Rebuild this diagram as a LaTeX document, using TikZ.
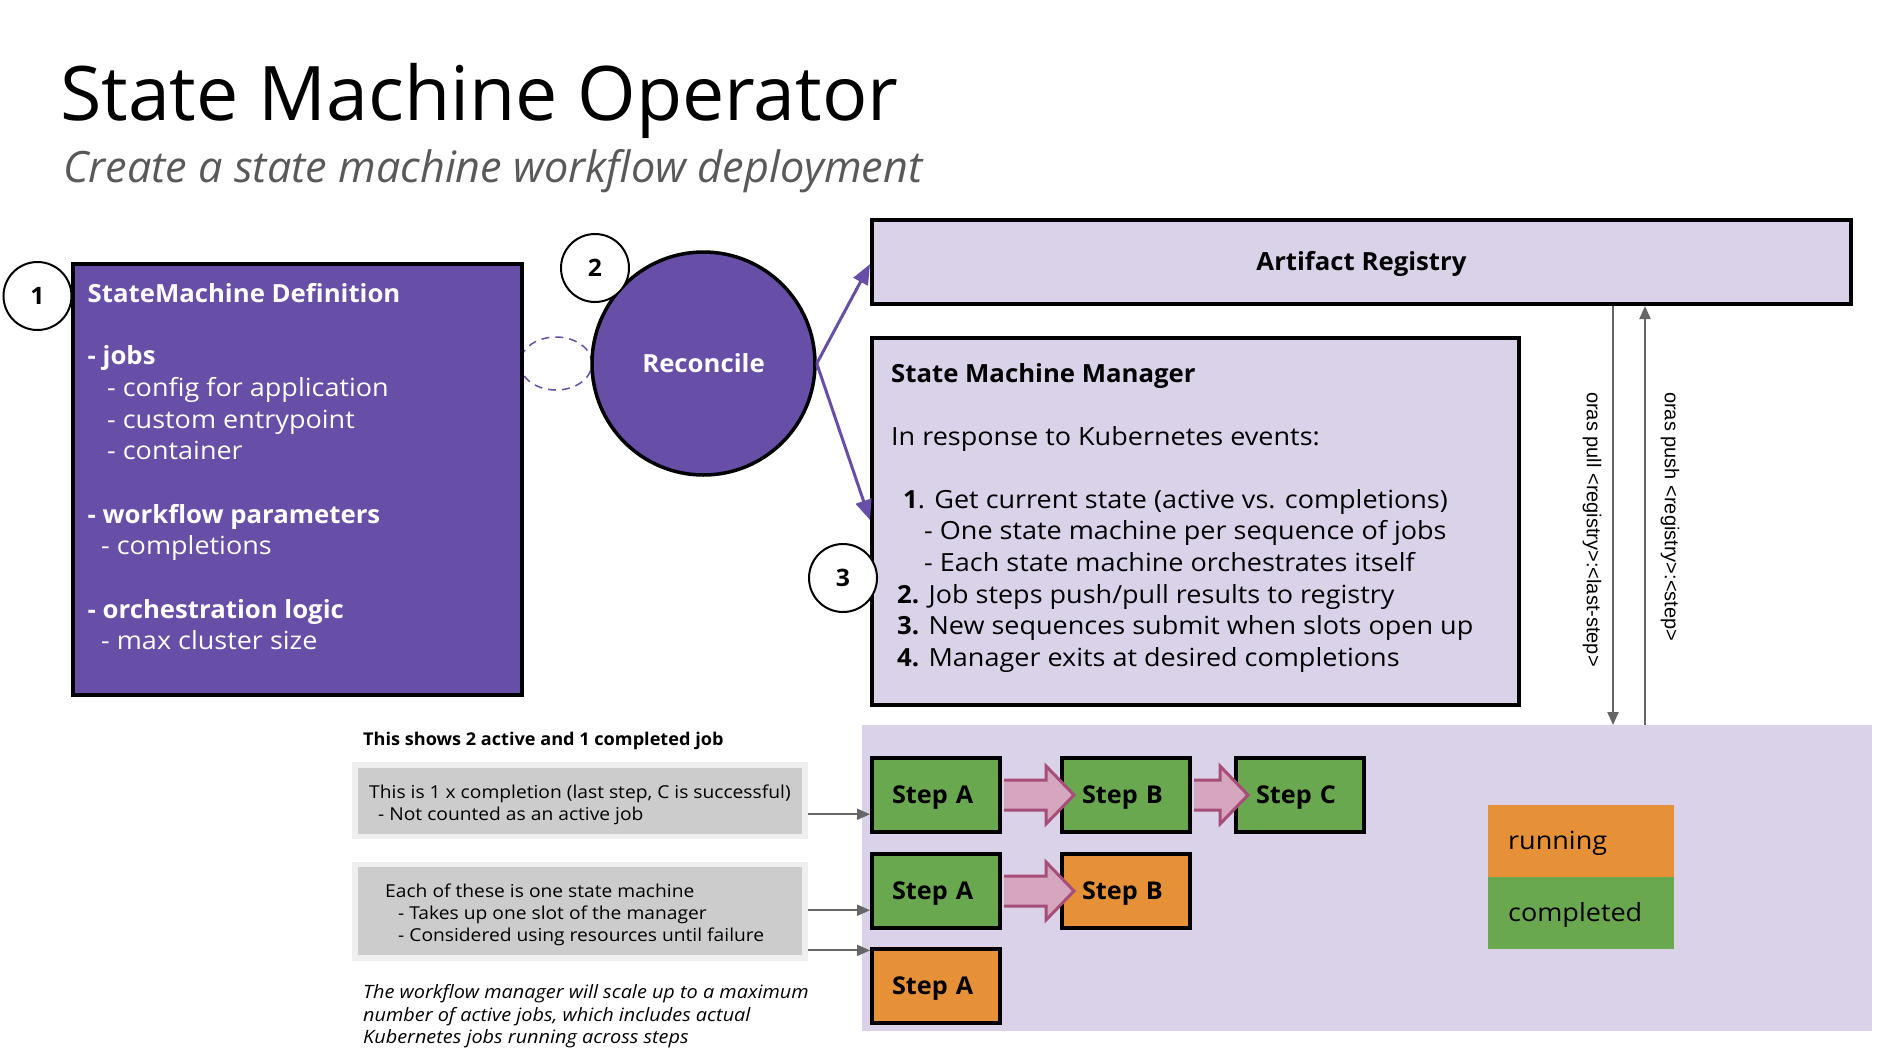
\documentclass[tikz,border=0pt]{standalone}
\usepackage{fontspec}
\setmainfont{Open Sans}[FakeStretch=1.08]
\newfontfamily\titlefont{Open Sans}
\newfontfamily\boldfam{Open Sans}[FakeStretch=1.03]
\newfontfamily\labelfont{Liberation Sans}
\newcommand\mybf[1]{{\boldfam\bfseries #1}}
\usetikzlibrary{arrows.meta,calc,shapes.geometric}
\definecolor{dpurple}{HTML}{674EA7}
\definecolor{lav}{HTML}{D9D2E9}
\definecolor{sgreen}{HTML}{6AA84F}
\definecolor{sorange}{HTML}{E69138}
\definecolor{pinkfill}{HTML}{D5A6BD}
\definecolor{pinkline}{HTML}{A64D79}
\definecolor{gout}{HTML}{EFEFEF}
\definecolor{gin}{HTML}{CCCCCC}
\definecolor{arrowgray}{HTML}{666666}
\definecolor{subgray}{HTML}{595959}
\tikzset{
 body/.style={inner sep=0pt, anchor=base west, font=\fontsize{25}{30}\selectfont},
 bodyb/.style={inner sep=0pt, anchor=base west, font=\boldfam\bfseries\fontsize{25}{30}\selectfont},
 small/.style={inner sep=0pt, anchor=base west, font=\fontsize{17.8}{22}\selectfont},
 smallb/.style={inner sep=0pt, anchor=base west, font=\boldfam\bfseries\fontsize{17.6}{20}\selectfont},
 foot/.style={inner sep=0pt, anchor=base west, font=\itshape\fontsize{18.4}{22}\selectfont},
 panel/.style={draw=black, line width=4pt, inner sep=0pt, anchor=north west},
 numc/.style={circle, draw=black, line width=2pt, fill=white, minimum size=68pt, inner sep=0pt, text height=17pt, text depth=0pt, font=\boldfam\bfseries\fontsize{24}{24}\selectfont},
 stepbox/.style={draw=black, line width=4pt, anchor=north west, minimum width=128pt, minimum height=74pt, text width=88pt, inner xsep=20pt, inner ysep=0pt, align=left, text height=17pt, text depth=0pt, font=\boldfam\bfseries\fontsize{24.5}{25}\selectfont},
 legbox/.style={anchor=north west, minimum width=186pt, minimum height=72pt, text width=146pt, inner xsep=20pt, inner ysep=0pt, align=left, text height=17pt, text depth=0pt, font=\fontsize{25}{26}\selectfont},
 parrow/.style={draw=dpurple, line width=3pt, -{Triangle[length=20pt,width=16pt]}},
 garrow/.style={draw=arrowgray, line width=2pt, -{Triangle[length=13pt,width=11pt]}},
 vlab/.style={inner sep=0pt, anchor=west, rotate=-90, font=\labelfont\fontsize{20}{20}\selectfont},
 grayout/.style={fill=gout, inner sep=0pt, anchor=north west},
 grayin/.style={fill=gin, inner sep=0pt, anchor=north west},
 pinkedge/.style={draw=pinkline, line width=3pt, line join=miter},
}
\newcommand\pinkarrow[2]{%
 \fill[pinkfill] let \p1=(#1.east), \p2=(#2.west) in
  (\x1+2pt,\y1+15pt) -- (\x2-14pt,\y1+15pt) -- (\x2-14pt,\y1+29pt) -- (\x2+14pt,\y1)
  -- (\x2-14pt,\y1-29pt) -- (\x2-14pt,\y1-15pt) -- (\x1+2pt,\y1-15pt) -- cycle;
 \draw[pinkedge] let \p1=(#1.east), \p2=(#2.west) in
  (\x1+2pt,\y1+15pt) -- (\x2-14pt,\y1+15pt) -- (\x2-14pt,\y1+29pt) -- (\x2+14pt,\y1)
  -- (\x2-14pt,\y1-29pt) -- (\x2-14pt,\y1-15pt) -- (\x1+2pt,\y1-15pt);
}
\begin{document}
\begin{tikzpicture}[x=1pt,y=-1pt]
\useasboundingbox (0,0) rectangle (1889,1058);
\fill[white] (0,0) rectangle (1889,1058);

% title
\node[inner sep=0pt, anchor=base west, font=\titlefont\fontsize{75.3}{80}\selectfont] (title) at (60,120) {State Machine Operator};
\node[inner sep=0pt, anchor=base west, text=subgray, font=\titlefont\itshape\fontsize{43.2}{46}\selectfont] (subtitle) at (63,182) {Create a state machine workflow deployment};

% link ellipse
\node[ellipse, draw=dpurple, line width=1.5pt, dash pattern=on 8pt off 6pt, minimum width=72pt, minimum height=53pt, inner sep=0pt] (link) at (556,363.5) {};

% definition
\node[panel, fill=dpurple, minimum width=449pt, minimum height=431pt] (def) at (71,262) {};
\node[numc] (n1) at (37.5,296) {1};
\begin{scope}[text=white]
\node[bodyb] (d0) at (87.5,302) {StateMachine Definition};
\node[bodyb] (d1) at (87.5,364) {- jobs};
\node[body] (d2) at (107,396) {- config for application};
\node[body] (d3) at (107,428) {- custom entrypoint};
\node[body] (d4) at (107,459) {- container};
\node[bodyb] (d5) at (87.5,523) {- workflow parameters};
\node[body] (d6) at (101,554) {- completions};
\node[bodyb] (d7) at (87.5,618) {- orchestration logic};
\node[body] (d8) at (101,649) {- max cluster size};
\end{scope}

% reconcile
\node[circle, fill=dpurple, draw=black, line width=3.5pt, minimum size=223pt, inner sep=0pt, text=white, text height=17.5pt, text depth=0pt, font=\boldfam\bfseries\fontsize{25}{25}\selectfont] (rec) at (703.5,363.5) {Reconcile};
\node[numc] (n2) at (595,268) {2};

% registry and manager
\node[panel, fill=lav, minimum width=979pt, minimum height=84pt, text height=17.5pt, text depth=0pt, font=\boldfam\bfseries\fontsize{25}{25}\selectfont] (reg) at (870,218) {Artifact Registry};
\node[panel, fill=lav, minimum width=647pt, minimum height=367pt] (mgr) at (870,336) {};
\node[bodyb] (m0) at (891,382) {State Machine Manager};
\node[body] (m1) at (891,445) {In response to Kubernetes events:};
\node[body] (m2) at (903,508) {\mybf{1}. Get current state (active vs. completions)};
\node[body] (m3) at (924,539) {- One state machine per sequence of jobs};
\node[body] (m4) at (924,571) {- Each state machine orchestrates itself};
\node[body] (m5) at (897,603) {\mybf{2.} Job steps push/pull results to registry};
\node[body] (m6) at (897,634) {\mybf{3.} New sequences submit when slots open up};
\node[body] (m7) at (897,666) {\mybf{4.} Manager exits at desired completions};
\node[numc] (n3) at (843,578) {3};

% reconcile arrows
\draw[parrow] (rec.east) -- ($(reg.north west)!0.524!(reg.south west)$);
\draw[parrow] (rec.east) -- ($(mgr.north west)!0.496!(mgr.south west)$);

% zone
\node[fill=lav, inner sep=0pt, anchor=north west, minimum width=1010pt, minimum height=306pt] (zone) at (862,725) {};

% registry push/pull
\coordinate (pullx) at (1613,0);
\coordinate (pushx) at (1645,0);
\draw[garrow] (pullx |- reg.south) -- (pullx |- zone.north);
\draw[garrow] (pushx |- zone.north) -- (pushx |- reg.south);
\node[vlab] (pullt) at (1592,392) {oras pull <registry>:<last-step>};
\node[vlab] (pusht) at (1670,392) {oras push <registry>:<step>};

% steps
\node[stepbox, fill=sgreen] (a1) at (870,756) {Step A};
\node[stepbox, fill=sgreen] (b1) at (1060,756) {Step B};
\node[stepbox, fill=sgreen] (c1) at (1234,756) {Step C};
\node[stepbox, fill=sgreen] (a2) at (870,852) {Step A};
\node[stepbox, fill=sorange] (b2) at (1060,852) {Step B};
\node[stepbox, fill=sorange] (a3) at (870,947) {Step A};
\pinkarrow{a1}{b1}
\pinkarrow{b1}{c1}
\pinkarrow{a2}{b2}

% legend
\node[legbox, fill=sorange] (run) at (1488,805) {running};
\node[legbox, fill=sgreen] (done) at (1488,877) {completed};

% notes
\node[smallb] (shows) at (363,745) {This shows 2 active and 1 completed job};
\node[grayout, minimum width=456pt, minimum height=77pt] (nb1) at (352,762) {};
\node[grayin, minimum width=444pt, minimum height=66pt] (nb1i) at (358,768) {};
\node[small] (t1) at (369,798) {This is 1 x completion (last step, C is successful)};
\node[small] (t2) at (378,820) {- Not counted as an active job};
\node[grayout, minimum width=456pt, minimum height=99pt] (nb2) at (352,862) {};
\node[grayin, minimum width=444pt, minimum height=88pt] (nb2i) at (358,867) {};
\node[small] (t3) at (385,897) {Each of these is one state machine};
\node[small] (t4) at (398,919) {- Takes up one slot of the manager};
\node[small] (t5) at (398,941) {- Considered using resources until failure};

\coordinate (g1) at ($(nb1.north east)!0.675!(nb1.south east)$);
\coordinate (g2) at ($(nb2.north east)!0.485!(nb2.south east)$);
\coordinate (g3) at ($(nb2.north east)!0.889!(nb2.south east)$);
\draw[garrow] (g1) -- (g1 -| a1.west);
\draw[garrow] (g2) -- (g2 -| a2.west);
\draw[garrow] (g3) -- (g3 -| a3.west);

\node[foot] (f1) at (363,998) {The workflow manager will scale up to a maximum};
\node[foot] (f2) at (363,1021) {number of active jobs, which includes actual};
\node[foot] (f3) at (363,1043) {Kubernetes jobs running across steps};
\end{tikzpicture}
\end{document}
